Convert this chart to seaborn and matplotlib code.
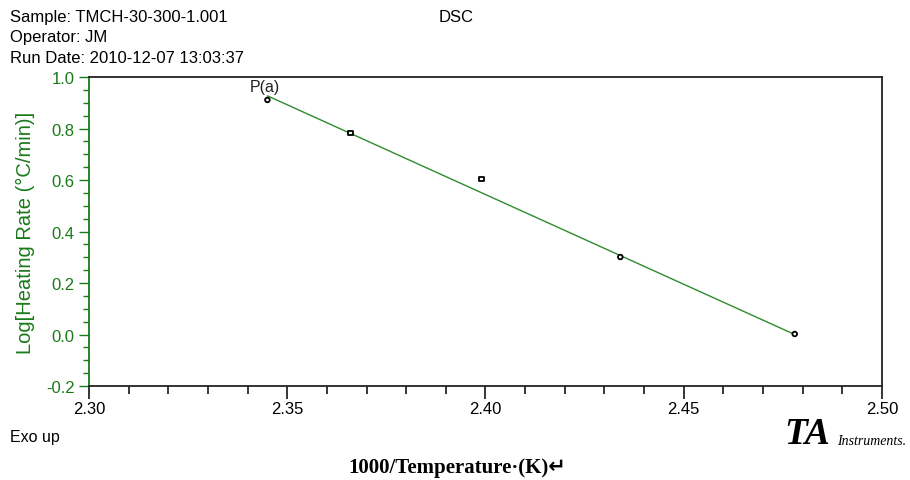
import numpy as np
import pandas as pd
import matplotlib
matplotlib.use("Agg")
import matplotlib.pyplot as plt
from matplotlib.ticker import MultipleLocator, FormatStrFormatter
import seaborn as sns

# data
inv_temp = [2.345, 2.366, 2.399, 2.434, 2.478]
log_rate = [0.911, 0.783, 0.604, 0.301, 0.002]
marker_kind = ["o", "s", "s", "o", "o"]
fit_x = [2.345, 2.478]
fit_y = [0.927, 0.000]
x_ticks = [2.30, 2.35, 2.40, 2.45, 2.50]
y_ticks = [-0.2, 0.0, 0.2, 0.4, 0.6, 0.8, 1.0]

sns.set_theme(style="ticks")
plt.rcParams['font.family'] = ['Liberation Sans', 'DejaVu Sans']
plt.rcParams['text.color'] = 'black'

GREEN = "#1a7a1a"
LINE_GREEN = "#2e8b2e"

fig = plt.figure(figsize=(9.10, 4.81), dpi=100)
ax = fig.add_axes([0.0978, 0.1954, 0.8714, 0.6424])

pts = pd.DataFrame({"x": inv_temp, "y": log_rate, "m": marker_kind})
fit = pd.DataFrame({"x": fit_x, "y": fit_y})

sns.lineplot(data=fit, x="x", y="y", ax=ax, color=LINE_GREEN, linewidth=1.0)
sns.scatterplot(data=pts, x="x", y="y", style="m", markers={"o": "o", "s": "s"},
                ax=ax, s=11, facecolor="white", edgecolor="black", linewidth=1.3,
                legend=False, zorder=5)

ax.set_xlim(2.30, 2.50)
ax.set_ylim(-0.2, 1.0)
ax.set_xticks(x_ticks)
ax.set_yticks(y_ticks)
ax.xaxis.set_major_formatter(FormatStrFormatter("%.2f"))
ax.yaxis.set_major_formatter(FormatStrFormatter("%.1f"))
ax.xaxis.set_minor_locator(MultipleLocator(0.01))
ax.yaxis.set_minor_locator(MultipleLocator(0.05))

ax.tick_params(axis="x", which="major", direction="out", length=9, width=1.1, colors="black",
               labelsize=12, pad=2)
ax.tick_params(axis="x", which="minor", direction="out", length=6, width=1.1, colors="black")
ax.tick_params(axis="y", which="major", direction="out", length=7, width=1, colors=GREEN,
               labelsize=12, labelcolor=GREEN)
ax.tick_params(axis="y", which="minor", direction="out", length=4, width=1, colors=GREEN)

for side in ["top", "right", "bottom"]:
    ax.spines[side].set_color("#222222")
    ax.spines[side].set_linewidth(1.3)
    ax.spines[side].set_visible(True)
ax.spines["left"].set_color(GREEN)
ax.spines["left"].set_linewidth(1.3)

ax.set_xlabel("")
ax.set_ylabel("Log[Heating Rate (°C/min)]", color=GREEN, fontsize=14.5, labelpad=8)

ax.text(2.3405, 0.935, "P(a)", fontsize=11.5, color="#222222", ha="left", va="bottom")

# header
fig.text(0.011, 0.979, "Sample: TMCH-30-300-1.001", fontsize=12, va="top", ha="left")
fig.text(0.011, 0.937, "Operator: JM", fontsize=12, va="top", ha="left")
fig.text(0.011, 0.895, "Run Date: 2010-12-07 13:03:37", fontsize=12, va="top", ha="left")
fig.text(0.482, 0.979, "DSC", fontsize=12, va="top", ha="left")
fig.text(0.011, 0.09, "Exo up", fontsize=11.5, va="center", ha="left")

# TA Instruments logo
fig.text(0.862, 0.097, "TA", fontsize=27, family="Liberation Serif", style="italic",
         weight="bold", va="center", ha="left")
fig.text(0.920, 0.082, "Instruments.", fontsize=10, family="Liberation Serif",
         style="italic", va="center", ha="left")

fig.text(0.503, 0.028, "1000/Temperature\u00b7(K)\u21b5", fontsize=15, family=["Liberation Serif", "DejaVu Sans"],
         weight="bold", va="center", ha="center")

fig.savefig("out.png", dpi=100)
